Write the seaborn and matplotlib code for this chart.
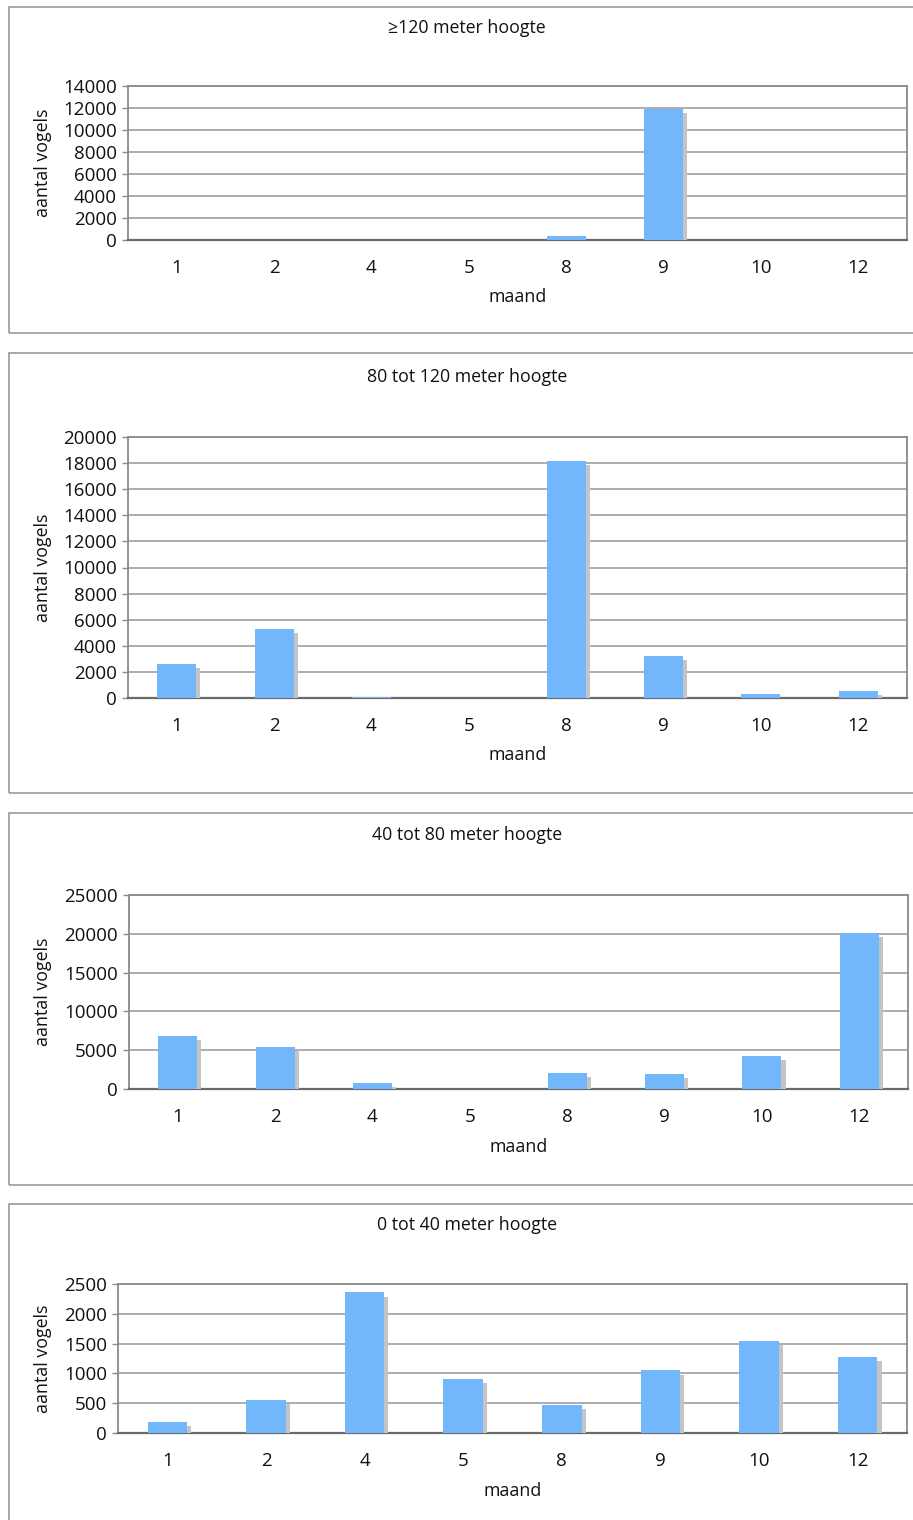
import matplotlib
matplotlib.use("Agg")
import matplotlib.pyplot as plt
from matplotlib.patches import Rectangle
from matplotlib.ticker import FixedLocator, NullFormatter
import matplotlib.patheffects as pe
import seaborn as sns

# Bird counts per month, split by flight altitude
months = ['1', '2', '4', '5', '8', '9', '10', '12']
titles = ['\u2265120 meter hoogte', '80 tot 120 meter hoogte',
          '40 tot 80 meter hoogte', '0 tot 40 meter hoogte']
hoogte_120_plus = [0, 0, 30, 0, 350, 11950, 0, 0]
hoogte_80_120 = [2600, 5300, 50, 0, 18150, 3200, 300, 550]
hoogte_40_80 = [6850, 5400, 770, 40, 2050, 1950, 4250, 20100]
hoogte_0_40 = [180, 550, 2360, 910, 470, 1050, 1540, 1280]
y_max = [14000, 20000, 25000, 2500]
y_step = [2000, 2000, 5000, 500]
series = [hoogte_120_plus, hoogte_80_120, hoogte_40_80, hoogte_0_40]

sns.set_style("white")
plt.rcParams['font.family'] = ['Open Sans', 'DejaVu Sans']

W, H = 913, 1520
fig = plt.figure(figsize=(W / 100, H / 100), dpi=100)
fig.patch.set_facecolor('white')

BAR = '#72b6fb'
SHADOW = '#c4c4c4'
FRAME = '#8a8a8a'
GRID = '#a6a6a6'
TXT = '#111111'

# panel layout in pixels: box top/bottom, axes left/right/top/bottom, title y, xlabel y
layout = [
    dict(box=(7, 333), ax=(128, 907, 86, 240), title=28, xlab=297),
    dict(box=(353, 793), ax=(128, 907, 437, 698), title=377, xlab=755),
    dict(box=(813, 1185), ax=(129, 908, 895, 1089), title=835, xlab=1147),
    dict(box=(1204, 1535), ax=(118, 907, 1284, 1433), title=1225, xlab=1491),
]


def fx(px):
    return px / W


def fy(py):
    return 1 - py / H


for i, lay in enumerate(layout):
    b0, b1 = lay['box']
    fig.patches.append(Rectangle((fx(9), fy(b1)), fx(930) - fx(9), fy(b0) - fy(b1),
                                 transform=fig.transFigure, fill=False,
                                 edgecolor='#9a9a9a', lw=1.2, zorder=0))
    l, r, t, bt = lay['ax']
    ax = fig.add_axes([fx(l), fy(bt), fx(r) - fx(l), fy(t) - fy(bt)])
    sns.barplot(x=months, y=series[i], order=months, ax=ax, color=BAR,
                saturation=1, width=0.4, errorbar=None, zorder=3)
    for p in ax.patches:
        p.set_linewidth(0)
        p.set_path_effects([pe.SimplePatchShadow(offset=(3, -3), shadow_rgbFace=SHADOW, alpha=1),
                            pe.Normal()])

    ax.set_xlim(-0.5, len(months) - 0.5)
    ax.set_ylim(0, y_max[i])
    ax.set_yticks(range(0, y_max[i] + 1, y_step[i]))
    ax.yaxis.grid(True, color=GRID, lw=1.3)
    ax.set_axisbelow(True)
    for side in ('left', 'top', 'right'):
        ax.spines[side].set_color(FRAME)
        ax.spines[side].set_linewidth(1.3)
    ax.spines['bottom'].set_color('#6a6a6a')
    ax.spines['bottom'].set_linewidth(1.6)

    ax.tick_params(axis='x', which='major', length=0, pad=14, labelsize=13.5, labelcolor=TXT)
    ax.xaxis.set_minor_locator(FixedLocator([k - 0.5 for k in range(len(months) + 1)]))
    ax.xaxis.set_minor_formatter(NullFormatter())
    ax.tick_params(axis='x', which='minor', length=5, width=1, color=FRAME, direction='out')
    ax.tick_params(axis='y', length=4, width=1, color=FRAME, direction='out', pad=4,
                   labelsize=13.5, labelcolor=TXT, left=True)
    ax.set_xlabel('')
    ax.set_ylabel('')

    fig.text(fx(467), fy(lay['title']), titles[i], ha='center', va='center',
             fontsize=12.8, color=TXT)
    fig.text(fx((l + r) / 2), fy(lay['xlab']), 'maand', ha='center', va='center',
             fontsize=12.8, color=TXT)
    fig.text(fx(43), fy((t + bt) / 2), 'aantal vogels', ha='center', va='center',
             rotation=90, fontsize=12.8, color=TXT)

fig.savefig('out.png', dpi=100, facecolor='white')
